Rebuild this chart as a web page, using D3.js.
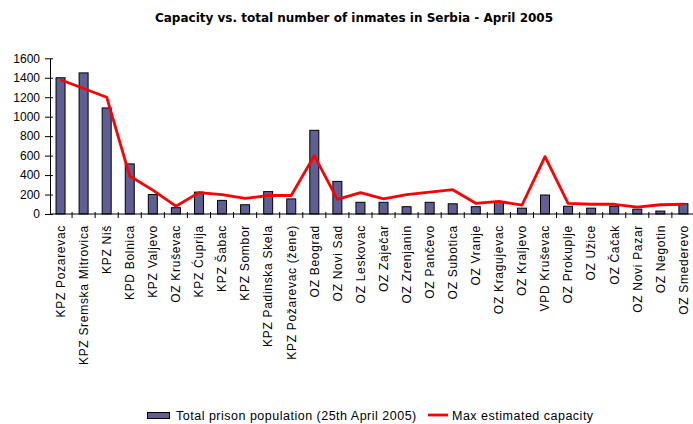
<!DOCTYPE html>
<html>
<head>
<meta charset="utf-8">
<script src="https://cdn.jsdelivr.net/npm/d3@7"></script>
<style>
  html, body { margin: 0; padding: 0; background: #fff; overflow: hidden; }
  svg { display: block; }
</style>
</head>
<body>
<svg id="chart" width="693" height="424"></svg>
<script>
const categories = [
  "KPZ Pozarevac", "KPZ Sremska Mitrovica", "KPZ Niš", "KPD Bolnica", "KPZ Valjevo",
  "OZ Kruševac", "KPZ Ćuprija", "KPZ Šabac", "KPZ Sombor", "KPZ Padinska Skela",
  "KPZ Požarevac (žene)", "OZ Beograd", "OZ Novi Sad", "OZ Leskovac", "OZ Zaječar",
  "OZ Zrenjanin", "OZ Pančevo", "OZ Subotica", "OZ Vranje", "OZ Kragujevac",
  "OZ Kraljevo", "VPD Kruševac", "OZ Prokuplje", "OZ Užice", "OZ Čačak",
  "OZ Novi Pazar", "OZ Negotin", "OZ Smederevo"
];
const population = [
  1400, 1450, 1090, 515, 200,
  65, 225, 140, 95, 230,
  155, 860, 335, 120, 120,
  75, 120, 105, 75, 125,
  60, 195, 80, 60, 80,
  50, 30, 105
];
const capacity = [
  1380, 1290, 1200, 390, 245,
  80, 220, 200, 160, 190,
  190, 600, 150, 220, 155,
  200, 225, 250, 110, 130,
  90, 590, 110, 100, 100,
  70, 95, 100
];
const yTicks = [0, 200, 400, 600, 800, 1000, 1200, 1400, 1600];
const title = "Capacity vs. total number of inmates in Serbia - April 2005";
const legendLabels = ["Total prison population (25th April 2005)", "Max estimated capacity"];

const svg = d3.select("#chart");
const font = "'Liberation Sans', Arial, sans-serif";

const x = d3.scaleBand().domain(categories).range([49, 49 + 28 * 23.07]).paddingInner(0).paddingOuter(0);
const y = d3.scaleLinear().domain([0, 1600]).range([214, 58.3]);
const cx = d => x(d) + x.bandwidth() / 2;

// title
svg.append("text")
  .attr("x", 354).attr("y", 22)
  .attr("text-anchor", "middle")
  .attr("font-family", "'DejaVu Sans', Verdana, sans-serif")
  .attr("font-weight", "bold")
  .attr("font-size", 12)
  .text(title);

// bars
const barW = 9;
svg.append("g").selectAll("rect")
  .data(categories)
  .enter().append("rect")
  .attr("x", d => cx(d) - barW / 2)
  .attr("y", (d, i) => y(population[i]))
  .attr("width", barW)
  .attr("height", (d, i) => y(0) - y(population[i]))
  .attr("fill", "#5f5f96")
  .attr("stroke", "#000")
  .attr("stroke-width", 1);

// y axis
const yAxis = d3.axisLeft(y).tickValues(yTicks).tickFormat(d3.format("d")).tickSize(0).tickSizeOuter(0);
const gy = svg.append("g").attr("transform", "translate(50,0)").call(yAxis);
gy.select(".domain").attr("stroke", "#000");
gy.selectAll(".tick line").remove();
gy.selectAll(".tick").append("line")
  .attr("x1", -5).attr("x2", 3).attr("y1", 0).attr("y2", 0)
  .attr("stroke", "#000");
gy.selectAll(".tick text")
  .attr("font-family", font).attr("font-size", 12).attr("fill", "#000")
  .attr("x", -10);

// x axis
const gx = svg.append("g").attr("transform", "translate(0,214)");
gx.append("line").attr("x1", 50).attr("x2", 700).attr("y1", 0).attr("y2", 0).attr("stroke", "#000");
gx.append("g").selectAll("line")
  .data(categories.slice(1))
  .enter().append("line")
  .attr("x1", d => x(d)).attr("x2", d => x(d))
  .attr("y1", -2).attr("y2", 4)
  .attr("stroke", "#000");

// x labels
svg.append("g").selectAll("text")
  .data(categories)
  .enter().append("text")
  .attr("transform", d => `translate(${cx(d) + 4.3},225) rotate(-90)`)
  .attr("text-anchor", "end")
  .attr("font-family", font)
  .attr("font-size", 12)
  .attr("letter-spacing", 0.7)
  .text(d => d);

// capacity line
const line = d3.line()
  .x((d, i) => cx(categories[i]))
  .y(d => y(d));
svg.append("path")
  .datum(capacity)
  .attr("d", line)
  .attr("fill", "none")
  .attr("stroke", "#ff0000")
  .attr("stroke-width", 2.8)
  .attr("stroke-linejoin", "round");

// legend
const lg = svg.append("g");
lg.append("rect").attr("x", 147.5).attr("y", 412.5).attr("width", 22).attr("height", 6)
  .attr("fill", "#5f5f96").attr("stroke", "#000");
lg.append("text").attr("x", 176).attr("y", 420)
  .attr("font-family", font).attr("font-size", 12.5).attr("letter-spacing", 0.5).text(legendLabels[0]);
lg.append("line").attr("x1", 428).attr("x2", 448).attr("y1", 415).attr("y2", 415)
  .attr("stroke", "#ff0000").attr("stroke-width", 2.8);
lg.append("text").attr("x", 452).attr("y", 420)
  .attr("font-family", font).attr("font-size", 12.5).attr("letter-spacing", 0.5).text(legendLabels[1]);
</script>
</body>
</html>
